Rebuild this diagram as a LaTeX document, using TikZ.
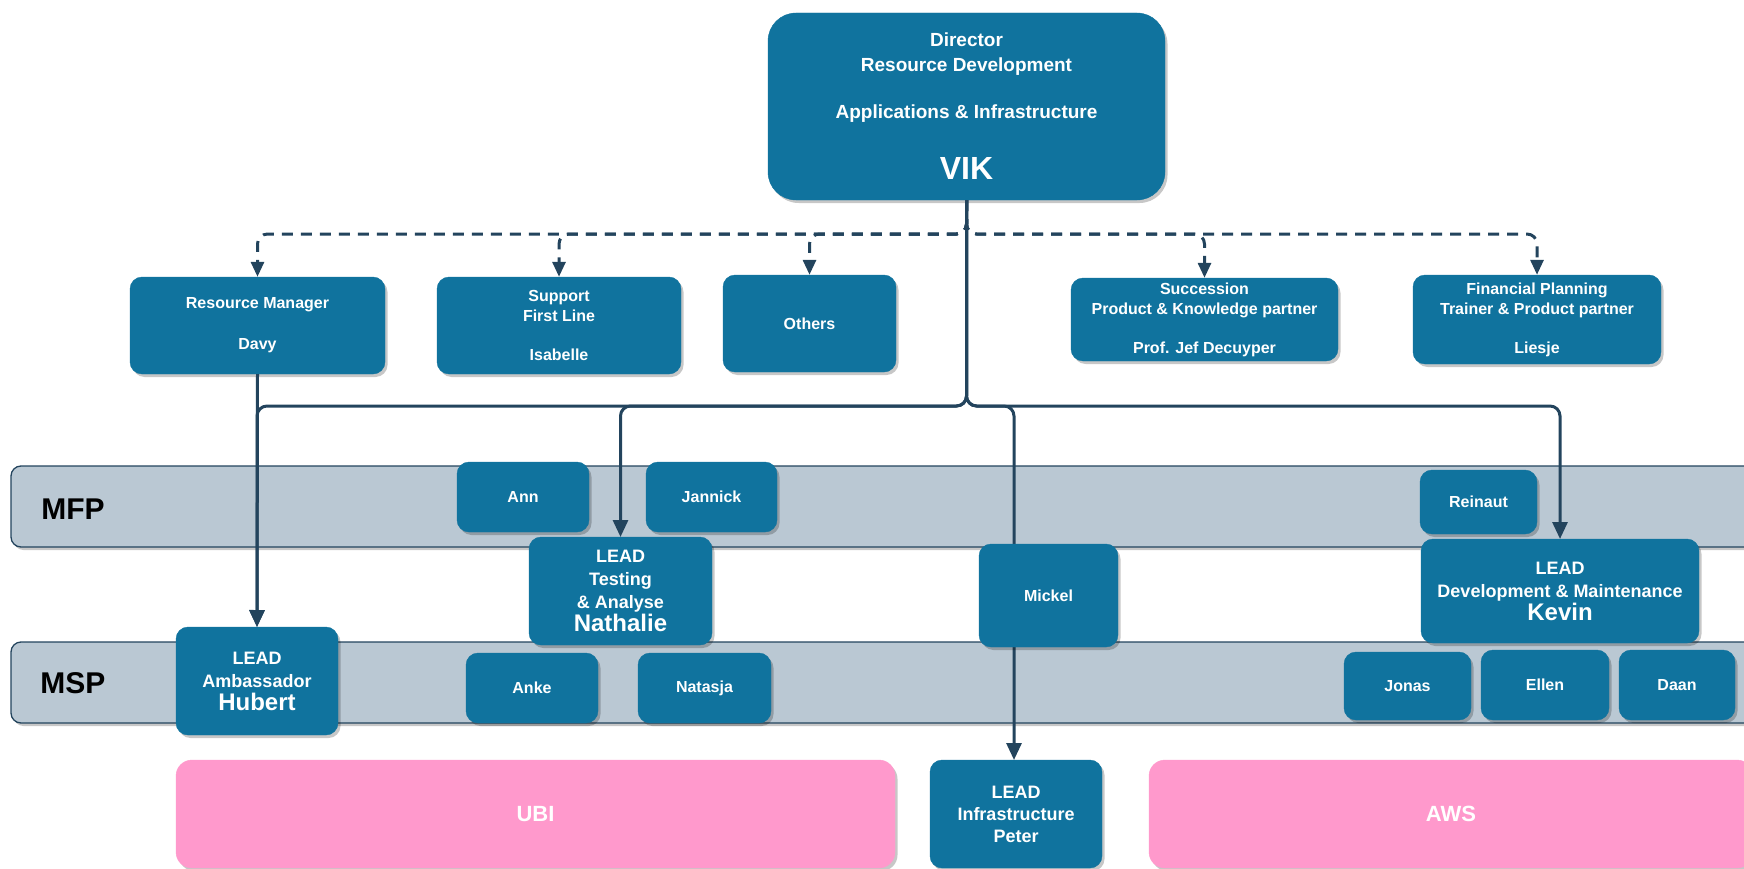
\documentclass[tikz,border=0pt]{standalone}
\usepackage{fontspec}
\setmainfont{Liberation Sans}
\usetikzlibrary{arrows.meta,shadows}
\definecolor{boxblue}{HTML}{10739E}
\definecolor{navy}{HTML}{23445D}
\definecolor{lanegray}{HTML}{BAC8D3}
\definecolor{pinkbox}{HTML}{FF99CC}
\newcommand\myfs[2]{\fontsize{#1}{#2}\selectfont}
\begin{document}
\begin{tikzpicture}[x=1pt,y=-1pt,
  shad/.style={drop shadow={shadow xshift=2.5pt,shadow yshift=-3pt,fill=black,opacity=0.22}},
  box/.style={rectangle, rounded corners=12pt, fill=boxblue, draw=boxblue, text=white,
    font=\bfseries\myfs{16}{20}, align=center, inner sep=0pt, shad},
  lead/.style={box, font=\bfseries\myfs{18}{23}},
  lane/.style={rectangle, rounded corners=10pt, fill=lanegray, draw=navy, line width=1.3pt, shad},
  lanelabel/.style={font=\bfseries\myfs{30}{34}, text=black, inner sep=0pt},
  pinkstyle/.style={rectangle, rounded corners=16pt, fill=pinkbox, draw=pinkbox, text=white,
    font=\bfseries\myfs{22}{26}, inner sep=0pt, shad},
  conn/.style={draw=navy, line width=3pt, rounded corners=10pt, -{Triangle[width=15pt,length=17pt]}},
  dconn/.style={draw=navy, line width=3pt, rounded corners=10pt, -{Triangle[width=13pt,length=15pt]}, dash pattern=on 11pt off 8pt}
]
\path[use as bounding box, clip] (0,0) rectangle (1744,869);

% swimlanes
\node[lane, minimum width=1760pt, minimum height=81pt] (mfp) at (891,506.5) {};
\node[lanelabel] (mfplabel) at (73,509) {MFP};
\node[lane, minimum width=1760pt, minimum height=81pt] (msp) at (891,682.5) {};
\node[lanelabel] (msplabel) at (73,683) {MSP};

% top boxes
\node[box, rounded corners=28pt, minimum width=397pt, minimum height=187pt, font=\bfseries\myfs{19}{25}] (vik) at (966.5,106.5)
  {Director\\Resource Development\\[22pt]Applications \& Infrastructure\\[34pt]{\myfs{32}{32}VIK}};
\node[box, minimum width=255pt, minimum height=97pt] (rm) at (257.5,325.5) {Resource Manager\\[21pt]Davy};
\node[box, minimum width=244pt, minimum height=97pt] (sup) at (559,325.5) {Support\\First Line\\[19pt]Isabelle};
\node[box, minimum width=173pt, minimum height=97pt] (oth) at (809.5,323.5) {Others};
\node[box, minimum width=267pt, minimum height=83pt] (suc) at (1204.5,319.5) {Succession\\Product \& Knowledge partner\\[19pt]Prof. Jef Decuyper};
\node[box, minimum width=248pt, minimum height=89pt] (fin) at (1537,319.5) {Financial Planning\\Trainer \& Product partner\\[19pt]Liesje};

% dashed connectors
\draw[dconn] (vik.south) -- (vik.south |- 0,234) -| (rm.north);
\draw[dconn] (vik.south) -- (vik.south |- 0,234) -| (sup.north);
\draw[dconn] (vik.south) -- (vik.south |- 0,234) -| (oth.north);
\draw[dconn] (vik.south) -- (vik.south |- 0,234) -| (suc.north);
\draw[dconn] (vik.south) -- (vik.south |- 0,234) -| (fin.north);

% connector end points (tops of the lower boxes)
\coordinate (hubtop) at (257,627);
\coordinate (nattop) at (620.5,537);
\coordinate (pettop) at (1014,760);
\coordinate (kevtop) at (1560,539);

% solid connectors
\draw[conn] (vik.south) -- (vik.south |- 0,406) -| (hubtop);
\draw[conn] (rm.south) -- (hubtop);
\draw[conn] (vik.south) -- (vik.south |- 0,406) -| (nattop);
\draw[conn] (vik.south) -- (vik.south |- 0,406) -| (pettop);
\draw[conn] (vik.south) -- (vik.south |- 0,406) -| (kevtop);

% lane boxes
\node[box, minimum width=132pt, minimum height=70pt] (ann) at (523,497) {Ann};
\node[box, minimum width=131pt, minimum height=70pt] (jan) at (711.5,497) {Jannick};
\node[lead, minimum width=183pt, minimum height=108pt] (nat) at (620.5,591) {LEAD\\Testing\\\& Analyse\\{\myfs{24}{24}Nathalie}};
\node[box, minimum width=132pt, minimum height=70pt] (anke) at (532,688) {Anke};
\node[box, minimum width=133pt, minimum height=70pt] (natasja) at (704.5,688) {Natasja};
\node[lead, minimum width=162pt, minimum height=108pt] (hub) at (257,681) {LEAD\\Ambassador\\{\myfs{24}{24}Hubert}};
\node[box, minimum width=139pt, minimum height=103pt] (mic) at (1048.5,595.5) {Mickel};
\node[box, minimum width=117pt, minimum height=64pt] (rei) at (1478.5,502) {Reinaut};
\node[lead, minimum width=278pt, minimum height=104pt] (kev) at (1560,591) {LEAD\\Development \& Maintenance\\{\myfs{24}{24}Kevin}};
\node[box, minimum width=127pt, minimum height=68pt] (jon) at (1407.5,686) {Jonas};
\node[box, minimum width=128pt, minimum height=70pt] (ell) at (1545,685) {Ellen};
\node[box, minimum width=116pt, minimum height=70pt] (daa) at (1677,685) {Daan};

% bottom row
\node[lead, minimum width=172pt, minimum height=108pt, font=\bfseries\myfs{18}{22}] (pet) at (1016,814) {LEAD\\Infrastructure\\Peter};
\node[pinkstyle, minimum width=719pt, minimum height=108pt] (ubi) at (535.5,814) {UBI};
\node[pinkstyle, minimum width=604pt, minimum height=108pt] (aws) at (1451,814) {AWS};
\end{tikzpicture}
\end{document}
